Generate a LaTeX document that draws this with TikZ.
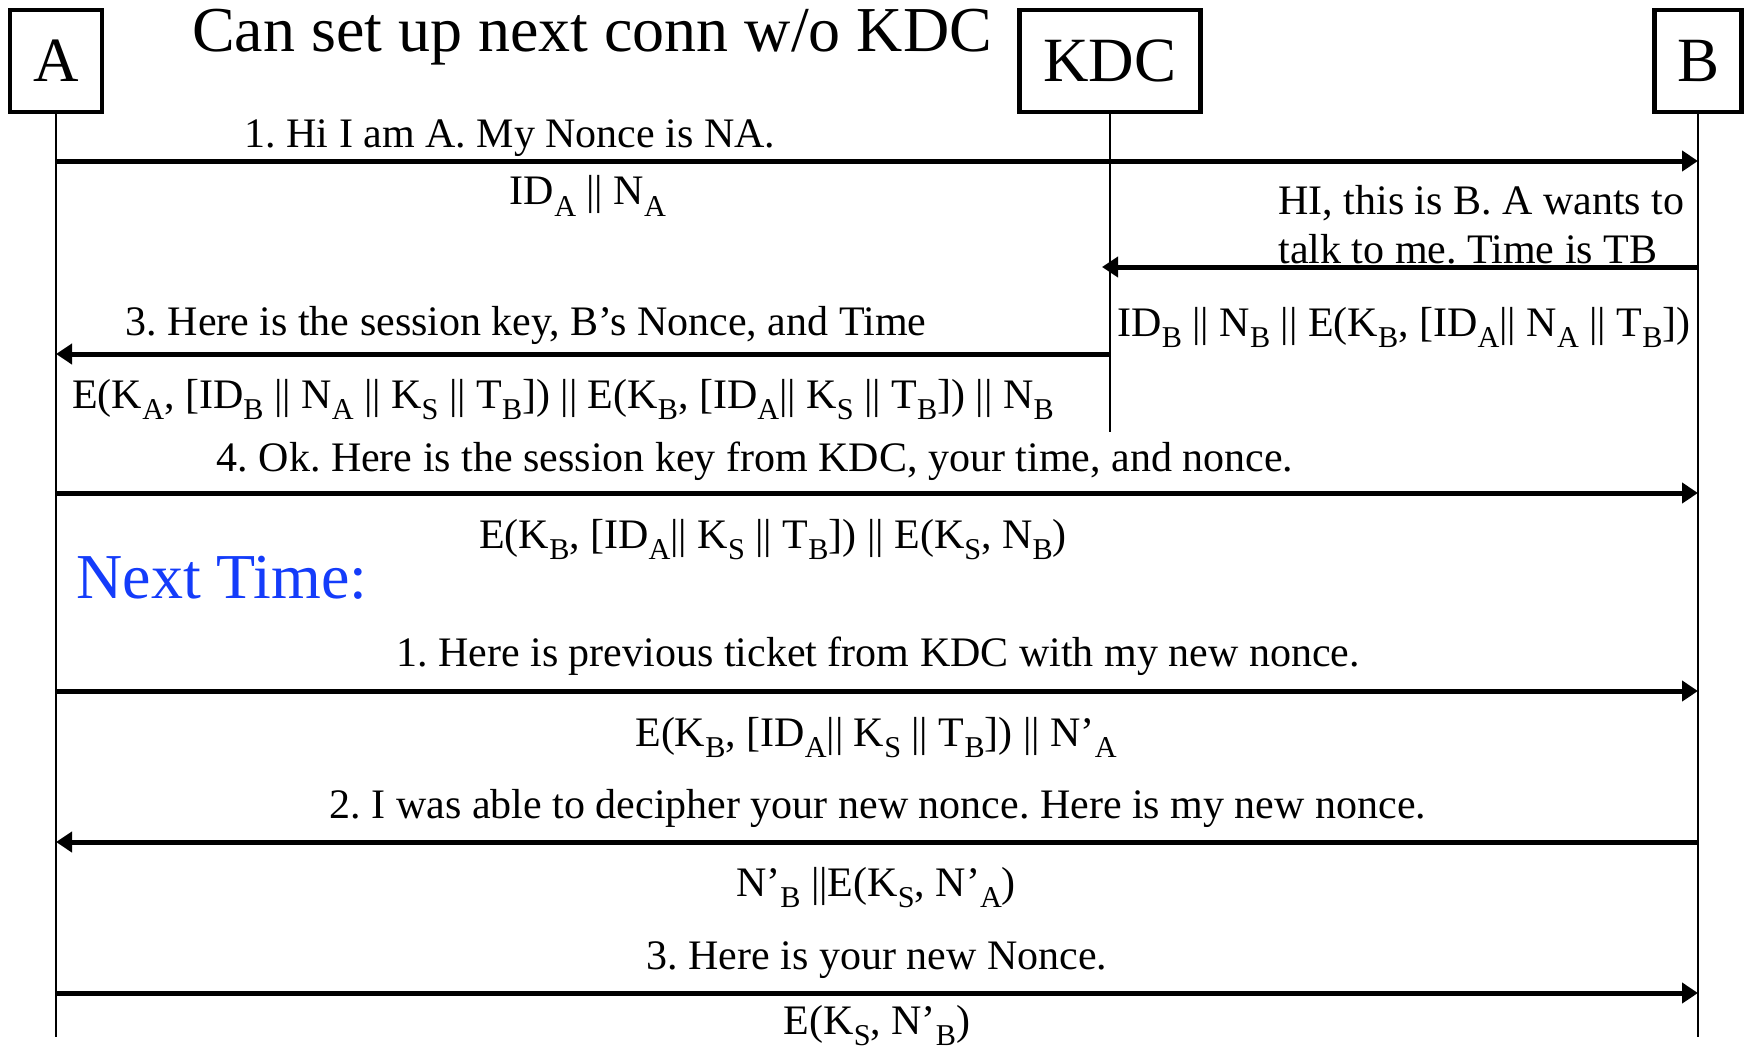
\documentclass[tikz,border=0pt]{standalone}
\usepackage{fontspec}
\setmainfont{Liberation Serif}
\usetikzlibrary{arrows.meta}
\newcommand{\lo}[1]{\raisebox{-0.28em}{\scalebox{0.72}{#1}}}
\definecolor{nextblue}{RGB}{20,60,250}
\frenchspacing
\begin{document}
\begin{tikzpicture}[x=0.5pt,y=-0.5pt,
  actor/.style={draw,line width=2.2pt,minimum height=51pt,inner sep=0pt,font=\fontsize{31.5}{36}\selectfont},
  life/.style={line width=1pt},
  msg/.style={line width=2.5pt,-{Triangle[length=8pt,width=10pt]}},
  lbl/.style={anchor=base,inner sep=0pt,font=\fontsize{21}{24.5}\selectfont},
  biglbl/.style={anchor=base,inner sep=0pt,font=\fontsize{32}{36}\selectfont},
]
\useasboundingbox (0,0) rectangle (1745,1054);
% actors
\node[actor,minimum width=46pt] (A) at (56,61) {A};
\node[actor,minimum width=90.5pt] (KDC) at (1110,61) {KDC};
\node[actor,minimum width=43.5pt] (B) at (1698,61) {B};
\node[biglbl] (title) at (592,52) {Can set up next conn w/o KDC};
% lifeline ends
\coordinate (Aend) at (A.south |- 0,1037);
\coordinate (KDCend) at (KDC.south |- 0,432);
\coordinate (Bend) at (B.south |- 0,1037);
\draw[life] (A.south) -- (Aend);
\draw[life] (KDC.south) -- (KDCend);
\draw[life] (B.south) -- (Bend);
% message points
\coordinate (a1) at (A.south |- 0,161);  \coordinate (b1) at (B.south |- 0,161);
\coordinate (b2) at (B.south |- 0,267);  \coordinate (k2) at ([xshift=-4pt]KDC.south |- 0,267);
\coordinate (k3) at (KDC.south |- 0,354); \coordinate (a3) at (A.south |- 0,354);
\coordinate (a4) at (A.south |- 0,493);  \coordinate (b4) at (B.south |- 0,493);
\coordinate (a5) at (A.south |- 0,691);  \coordinate (b5) at (B.south |- 0,691);
\coordinate (b6) at (B.south |- 0,842);  \coordinate (a6) at (A.south |- 0,842);
\coordinate (a7) at (A.south |- 0,993);  \coordinate (b7) at (B.south |- 0,993);
\draw[msg] (a1) -- (b1);
\draw[msg] (b2) -- (k2);
\draw[msg] (k3) -- (a3);
\draw[msg] (a4) -- (b4);
\draw[msg] (a5) -- (b5);
\draw[msg] (b6) -- (a6);
\draw[msg] (a7) -- (b7);
% labels
\node[lbl] (l1) at (510,148) {1. Hi I am A. My Nonce is NA.};
\node[lbl] (l1b) at (588,205) {ID\lo{A} || N\lo{A}};
\node[lbl,anchor=base west,align=left] (l2) at (1278,263) {HI, this is B. A wants to\\talk to me. Time is TB};
\node[lbl] (l2b) at (1404,336) {ID\lo{B} || N\lo{B} || E(K\lo{B}, [ID\lo{A}|| N\lo{A} || T\lo{B}])};
\node[lbl] (l3) at (526,335) {3. Here is the session key, B’s Nonce, and Time};
\node[lbl] (l3b) at (563,408) {E(K\lo{A}, [ID\lo{B} || N\lo{A} || K\lo{S} || T\lo{B}]) || E(K\lo{B}, [ID\lo{A}|| K\lo{S} || T\lo{B}]) || N\lo{B}};
\node[lbl] (l4) at (755,471) {4. Ok. Here is the session key from KDC, your time, and nonce.};
\node[lbl] (l4b) at (773,548) {E(K\lo{B}, [ID\lo{A}|| K\lo{S} || T\lo{B}]) || E(K\lo{S}, N\lo{B})};
\node[biglbl,anchor=base west,text=nextblue] (next) at (76,598) {Next Time:};
\node[lbl] (l5) at (878,666) {1. Here is previous ticket from KDC with my new nonce.};
\node[lbl] (l5b) at (876,746) {E(K\lo{B}, [ID\lo{A}|| K\lo{S} || T\lo{B}]) || N’\lo{A}};
\node[lbl] (l6) at (878,818) {2. I was able to decipher your new nonce. Here is my new nonce.};
\node[lbl] (l6b) at (876,896) {N’\lo{B} ||E(K\lo{S}, N’\lo{A})};
\node[lbl] (l7) at (877,969) {3. Here is your new Nonce.};
\node[lbl] (l7b) at (877,1034) {E(K\lo{S}, N’\lo{B})};
\end{tikzpicture}
\end{document}
